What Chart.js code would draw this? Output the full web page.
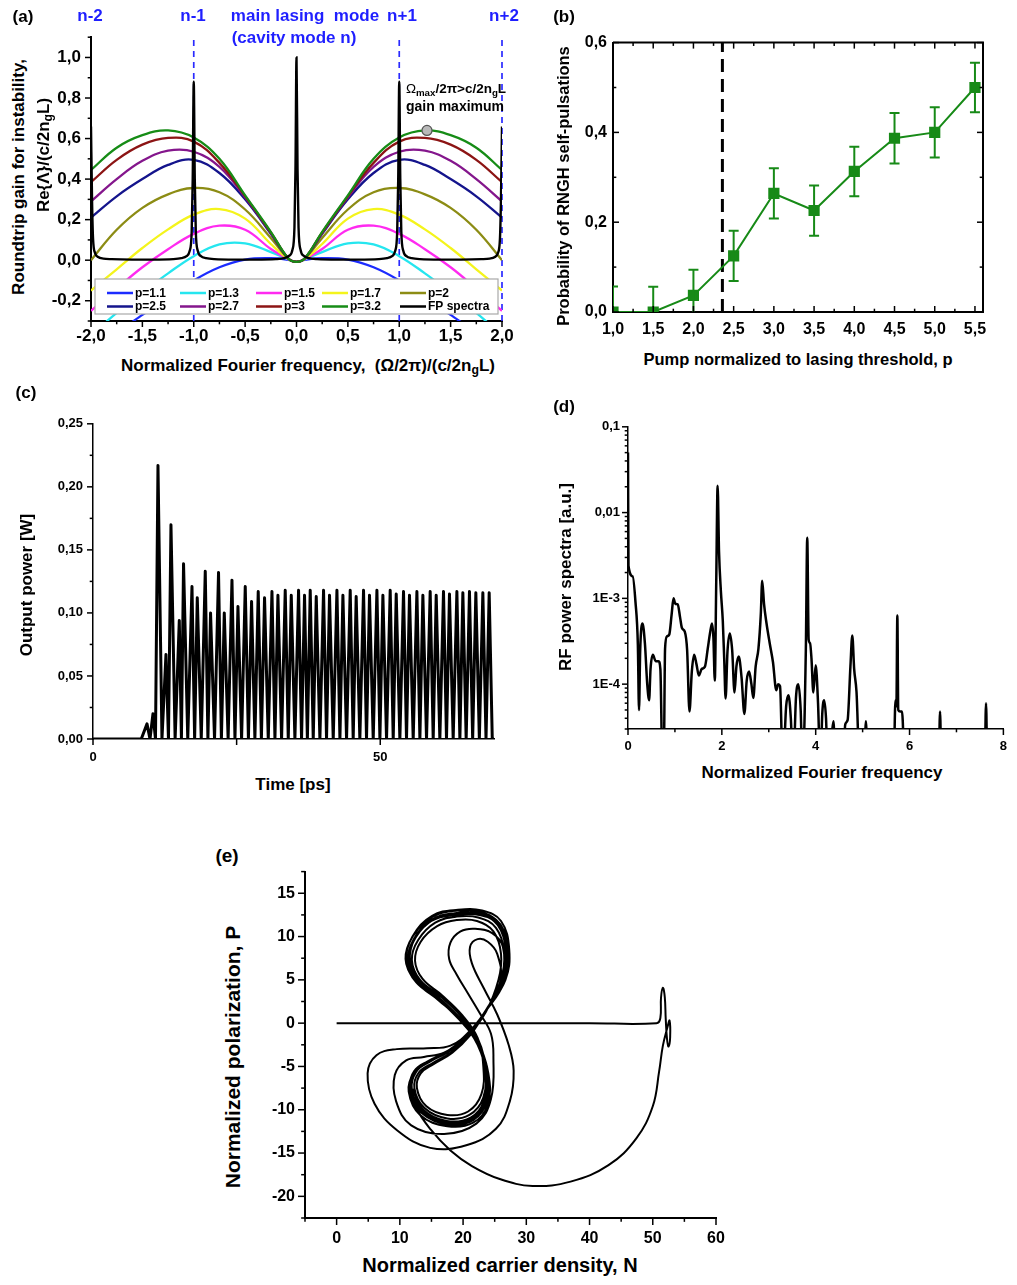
<!DOCTYPE html>
<html>
<head>
<meta charset="utf-8">
<script src="https://cdn.jsdelivr.net/npm/chart.js@4.4.1/dist/chart.umd.min.js"></script>
<style>
  html, body { margin: 0; padding: 0; background: #fff; }
  body { position: relative; width: 1017px; height: 1285px; overflow: hidden;
         font-family: "Liberation Sans", Arial, sans-serif; font-weight: bold; color: #000; }
  .panel { position: absolute; }
  .panel canvas { display: block; }
  .t { position: absolute; white-space: nowrap; line-height: 1; transform: translate(-50%, -50%); }
  .r { transform: translate(-50%, -50%) rotate(-90deg); }
  .blue { color: #1f1fff; }
  sub { font-size: 72%; vertical-align: -0.28em; line-height: 0; }
</style>
</head>
<body>

<div id="pa" class="panel"><canvas></canvas></div>
<div id="pb" class="panel"><canvas></canvas></div>
<div id="pc" class="panel"><canvas></canvas></div>
<div id="pd" class="panel"><canvas></canvas></div>
<div id="pe" class="panel"><canvas></canvas></div>

<!-- panel (a) texts -->
<div class="t" style="left:23px;top:16px;font-size:17px">(a)</div>
<div class="t blue" style="left:90px;top:15px;font-size:17px">n-2</div>
<div class="t blue" style="left:193px;top:15px;font-size:17px">n-1</div>
<div class="t blue" style="left:305px;top:15px;font-size:17px">main lasing&nbsp; mode</div>
<div class="t blue" style="left:294px;top:37px;font-size:17px">(cavity mode n)</div>
<div class="t blue" style="left:402px;top:15px;font-size:17px">n+1</div>
<div class="t blue" style="left:504px;top:15px;font-size:17px">n+2</div>
<div class="t" style="left:456px;top:89px;font-size:13.5px"><span style="font-weight:normal">Ω</span><sub>max</sub>/2π&gt;c/2n<sub>g</sub>L</div>
<div class="t" style="left:455px;top:106px;font-size:14px">gain maximum</div>
<div class="t r" style="left:18px;top:177px;font-size:17px">Roundtrip gain for instability,</div>
<div class="t r" style="left:43px;top:155px;font-size:17px">Re{Λ}/(c/2n<sub>g</sub>L)</div>
<div class="t" style="left:308px;top:365px;font-size:17px">Normalized Fourier frequency,&nbsp; (Ω/2π)/(c/2n<sub>g</sub>L)</div>

<!-- panel (b) texts -->
<div class="t" style="left:564px;top:16px;font-size:17px">(b)</div>
<div class="t r" style="left:563px;top:186px;font-size:16.5px">Probability of RNGH self-pulsations</div>
<div class="t" style="left:798px;top:359px;font-size:16.5px">Pump normalized to lasing threshold, p</div>

<!-- panel (c) texts -->
<div class="t" style="left:26px;top:392px;font-size:17px">(c)</div>
<div class="t r" style="left:26px;top:585px;font-size:17px">Output power [W]</div>
<div class="t" style="left:293px;top:784px;font-size:17px">Time [ps]</div>

<!-- panel (d) texts -->
<div class="t" style="left:564px;top:406px;font-size:17px">(d)</div>
<div class="t r" style="left:565px;top:577px;font-size:17px">RF power spectra [a.u.]</div>
<div class="t" style="left:822px;top:772px;font-size:17px">Normalized Fourier frequency</div>

<!-- panel (e) texts -->
<div class="t" style="left:227px;top:855px;font-size:19px">(e)</div>
<div class="t r" style="left:232px;top:1057px;font-size:21px">Normalized polarization, P</div>
<div class="t" style="left:500px;top:1265px;font-size:20px">Normalized carrier density, N</div>

<script>
const FONT = '"Liberation Sans", Arial, sans-serif';
Chart.defaults.font.family = FONT;
Chart.defaults.font.weight = 'bold';
Chart.defaults.color = '#000';
Chart.defaults.animation = false;
Chart.defaults.plugins.legend.display = false;
Chart.defaults.plugins.tooltip.enabled = false;

// ---------------- (a) instability gain vs. Fourier frequency ----------------
const gainX   = [-2, -1.75, -1.5, -1.25, -1, -0.75, -0.5, -0.25, -0.08, 0, 0.08, 0.25, 0.5, 0.75, 1, 1.25, 1.5, 1.75, 2];
const gainP11 = [-0.46, -0.36, -0.27, -0.185, -0.10, -0.035, 0.003, 0.01, 0.002, -0.008, 0.002, 0.01, 0.003, -0.035, -0.10, -0.185, -0.27, -0.36, -0.46];
const gainP13 = [-0.37, -0.26, -0.16, -0.065, 0.02, 0.078, 0.083, 0.04, 0.004, -0.008, 0.004, 0.04, 0.083, 0.078, 0.02, -0.065, -0.16, -0.26, -0.37];
const gainP15 = [-0.25, -0.14, -0.035, 0.054, 0.13, 0.17, 0.15, 0.055, 0.005, -0.008, 0.005, 0.055, 0.15, 0.17, 0.13, 0.054, -0.035, -0.14, -0.25];
const gainP17 = [-0.15, -0.045, 0.06, 0.152, 0.225, 0.252, 0.205, 0.08, 0.006, -0.008, 0.006, 0.08, 0.205, 0.252, 0.225, 0.152, 0.06, -0.045, -0.15];
const gainP20 = [0.0, 0.15, 0.258, 0.325, 0.356, 0.335, 0.25, 0.11, 0.007, -0.008, 0.007, 0.11, 0.25, 0.335, 0.356, 0.325, 0.258, 0.15, 0.0];
const gainP25 = [0.21, 0.315, 0.40, 0.47, 0.495, 0.43, 0.30, 0.13, 0.008, -0.008, 0.008, 0.13, 0.30, 0.43, 0.495, 0.47, 0.40, 0.315, 0.21];
const gainP27 = [0.29, 0.40, 0.49, 0.54, 0.535, 0.46, 0.31, 0.135, 0.008, -0.008, 0.008, 0.135, 0.31, 0.46, 0.535, 0.54, 0.49, 0.40, 0.29];
const gainP30 = [0.385, 0.495, 0.57, 0.603, 0.585, 0.48, 0.315, 0.137, 0.008, -0.008, 0.008, 0.137, 0.315, 0.48, 0.585, 0.603, 0.57, 0.495, 0.385];
const gainP32 = [0.445, 0.555, 0.617, 0.64, 0.605, 0.50, 0.32, 0.14, 0.008, -0.008, 0.008, 0.14, 0.32, 0.50, 0.605, 0.64, 0.617, 0.555, 0.445];
const pLabels = ['p=1.1', 'p=1.3', 'p=1.5', 'p=1.7', 'p=2', 'p=2.5', 'p=2.7', 'p=3', 'p=3.2'];
const pColors = ['#1c2cff', '#25e6ef', '#ff2af0', '#f4f41c', '#8c8c14', '#14148c', '#84168c', '#8c1414', '#168c16'];

// Fabry-Perot cavity mode spectrum
const fpX = [-2, -1.99, -1.98, -1.96, -1.93, -1.88, -1.8, -1.6, -1.4, -1.2, -1.12, -1.07, -1.04, -1.02, -1.01, -1,
             -0.99, -0.98, -0.96, -0.93, -0.88, -0.8, -0.6, -0.4, -0.2, -0.12, -0.07, -0.04, -0.02, -0.01, 0,
             0.01, 0.02, 0.04, 0.07, 0.12, 0.2, 0.4, 0.6, 0.8, 0.88, 0.93, 0.96, 0.98, 0.99, 1,
             1.01, 1.02, 1.04, 1.07, 1.12, 1.2, 1.4, 1.6, 1.8, 1.88, 1.93, 1.96, 1.98, 1.99, 2];
const fpY = [0.66, 0.30, 0.105, 0.035, 0.016, 0.008, 0.005, 0.003, 0.003, 0.005, 0.01, 0.02, 0.045, 0.14, 0.40, 0.88,
             0.40, 0.14, 0.045, 0.02, 0.01, 0.005, 0.003, 0.003, 0.005, 0.01, 0.022, 0.05, 0.16, 0.45, 1.0,
             0.45, 0.16, 0.05, 0.022, 0.01, 0.005, 0.003, 0.003, 0.005, 0.01, 0.02, 0.045, 0.14, 0.40, 0.88,
             0.40, 0.14, 0.045, 0.02, 0.01, 0.005, 0.003, 0.003, 0.005, 0.008, 0.016, 0.035, 0.105, 0.30, 0.66];
const modeLines = [-1, 1, 2];
const gainMax = { x: 1.27, y: 0.64 };
const aTicksX = [-2, -1.5, -1, -0.5, 0, 0.5, 1, 1.5, 2];
const aTicksY = [-0.2, 0, 0.2, 0.4, 0.6, 0.8, 1.0];

// ---------------- (b) self-pulsation probability ----------------
const pumpP   = [1.0, 1.5, 2.0, 2.5, 3.0, 3.5, 4.0, 4.5, 5.0, 5.5];
const probSP  = [0.0, 0.0, 0.037, 0.125, 0.264, 0.226, 0.313, 0.387, 0.40, 0.50];
const probErr = [0.057, 0.056, 0.057, 0.056, 0.056, 0.056, 0.055, 0.056, 0.056, 0.055];
const pumpThreshold = 2.36;
const bTicksX = [1.0, 1.5, 2.0, 2.5, 3.0, 3.5, 4.0, 4.5, 5.0, 5.5];
const bTicksY = [0, 0.2, 0.4, 0.6];

// ---------------- (c) output power time trace ----------------
const pulseT = [9.40, 10.44, 11.31, 12.70, 13.57, 15.02, 15.76, 17.23, 18.15, 19.54, 20.46, 21.85, 22.85, 24.19,
                25.23, 26.50, 27.60, 28.76, 29.86, 31.15, 32.19, 33.46, 34.51, 35.78, 36.82, 37.81, 38.86, 40.13,
                41.17, 42.46, 43.50, 44.77, 45.81, 47.09, 48.13, 49.42, 50.46, 51.73, 52.78, 54.05, 55.09, 56.38,
                57.42, 58.69, 59.74, 61.01, 62.05, 63.34, 64.38, 65.53, 66.64, 67.86, 68.96];
const pulseP = [0.012, 0.020, 0.217, 0.067, 0.170, 0.094, 0.139, 0.121, 0.112, 0.133, 0.100, 0.132, 0.100, 0.126,
                0.105, 0.121, 0.109, 0.117, 0.112, 0.117, 0.114, 0.118, 0.114, 0.118, 0.114, 0.118, 0.113, 0.118,
                0.114, 0.118, 0.114, 0.118, 0.113, 0.118, 0.114, 0.118, 0.114, 0.118, 0.115, 0.117, 0.114, 0.117,
                0.114, 0.117, 0.114, 0.117, 0.115, 0.117, 0.116, 0.117, 0.116, 0.116, 0.116];
const laserOn = 8.4, traceEnd = 69.5;
const cTicksX = [0, 50];
const cTicksY = [0, 0.05, 0.10, 0.15, 0.20, 0.25];

// ---------------- (d) RF power spectrum (frequency, power) ----------------
const rfSpectrum = [
  [0, 0.05], [0.01, 2.4e-3], [0.1, 1.8e-3], [0.16, 9e-4], [0.21, 2.9e-4], [0.235, 5.0e-5], [0.26, 2.5e-4],
  [0.31, 5.1e-4], [0.36, 3.0e-4], [0.41, 1.0e-4], [0.45, 6.5e-5], [0.48, 1.5e-4], [0.53, 2.2e-4], [0.59, 1.85e-4],
  [0.65, 1.85e-4], [0.69, 1.5e-4], [0.735, 1e-5], [0.76, 1e-5], [0.79, 2.6e-4], [0.83, 3.6e-4], [0.88, 3.8e-4],
  [0.93, 6.5e-4], [0.97, 1.0e-3], [1.01, 8.6e-4], [1.06, 8.5e-4], [1.11, 6.0e-4], [1.15, 4.5e-4], [1.21, 4.1e-4],
  [1.26, 2.5e-4], [1.31, 4.8e-5], [1.36, 1.4e-4], [1.41, 2.2e-4], [1.46, 1.7e-4], [1.51, 1.26e-4], [1.57, 1.5e-4],
  [1.64, 1.6e-4], [1.70, 2.6e-4], [1.75, 4.0e-4], [1.79, 5.1e-4], [1.82, 3.5e-4], [1.85, 1.1e-4], [1.88, 1.5e-3],
  [1.91, 0.0206], [1.94, 3.5e-3], [1.98, 1.2e-3], [2.02, 5.5e-4], [2.05, 2.0e-4], [2.08, 6.8e-5], [2.12, 2.4e-4],
  [2.17, 3.9e-4], [2.22, 2.5e-4], [2.27, 8.0e-5], [2.31, 1.6e-4], [2.36, 2.1e-4], [2.42, 1.2e-4], [2.48, 4.5e-5],
  [2.53, 1.1e-4], [2.58, 1.4e-4], [2.63, 1.0e-4], [2.67, 6.9e-5], [2.72, 1.6e-4], [2.78, 2.6e-4], [2.83, 6.5e-4],
  [2.86, 1.6e-3], [2.90, 8.5e-4], [2.95, 5.2e-4], [3.02, 3.0e-4], [3.09, 1.8e-4], [3.16, 8.5e-5], [3.20, 1.0e-4],
  [3.24, 9.5e-5], [3.30, 1e-5], [3.37, 5.5e-5], [3.42, 7.4e-5], [3.47, 4.0e-5], [3.52, 1e-5], [3.58, 7.0e-5],
  [3.63, 1.0e-4], [3.68, 5.0e-5], [3.72, 1e-5], [3.79, 2.5e-4], [3.82, 5.1e-3], [3.85, 3.3e-4], [3.88, 3.0e-4],
  [3.91, 2.0e-4], [3.95, 8.0e-5], [4.00, 1.66e-4], [4.05, 6.0e-5], [4.10, 1e-5], [4.14, 4.5e-5], [4.18, 6.5e-5],
  [4.22, 4.0e-5], [4.26, 1e-5], [4.34, 2.5e-5], [4.38, 3.7e-5], [4.42, 1e-5], [4.58, 1e-5], [4.63, 3.4e-5],
  [4.68, 3.8e-5], [4.74, 1.6e-4], [4.78, 3.7e-4], [4.82, 1.5e-4], [4.87, 8.1e-5], [4.94, 1e-5], [5.03, 1e-5],
  [5.07, 3.7e-5], [5.11, 1e-5], [5.66, 1e-5], [5.70, 6.5e-5], [5.72, 5.5e-5], [5.74, 6.3e-4], [5.76, 5.0e-5],
  [5.80, 4.8e-5], [5.84, 4.8e-5], [5.90, 1e-5], [6.62, 1e-5], [6.65, 4.8e-5], [6.68, 1e-5], [7.60, 1e-5],
  [7.63, 6.0e-5], [7.66, 1e-5], [8.0, 1e-5]
];
const dTicksX = [0, 2, 4, 6, 8];
const dTicksY = [1e-4, 1e-3, 1e-2, 1e-1];
const dTickLabels = ['1E-4', '1E-3', '0,01', '0,1'];

// ---------------- (e) phase portrait (carrier density N, polarization P) ----------------
const trajectory = [
  [0, 0], [20, 0], [40, 0], [50.6, 0], [51.2, 0.6], [51.3, 2.9], [51.6, 4.1], [51.9, 3.0], [52.05, 0.5],
  [52.25, -1.8], [52.5, -2.7], [52.75, -1.6], [52.65, 0.3], [52.35, -0.4], [51.6, -2.6], [51.0, -5.6],
  [50.0, -9.6], [47.4, -13.3], [43.0, -16.4], [37.0, -18.3], [31.0, -18.8], [25.8, -18.0], [21.4, -16.5],
  [18.0, -14.7], [14.9, -12.3], [12.6, -9.8], [11.6, -7.3], [12.3, -5.5], [14.4, -4.4], [17.4, -3.3],
  [20.5, -1.5], [23.6, 1.4],
  [26.4, 4.6], [27.1, 8.3], [25.9, 11.4], [22.9, 12.8], [19.1, 13.0], [15.2, 12.3], [12.1, 10.1], [10.9, 7.4],
  [12.4, 4.9], [15.8, 3.0], [19.2, 0.7], [22.2, -2.0], [23.9, -5.5], [23.8, -9.0], [21.6, -11.2], [17.6, -11.7],
  [13.5, -10.4], [11.5, -7.8], [12.3, -5.6], [14.6, -4.4], [17.6, -3.3], [20.6, -1.5], [23.5, 1.3],
  [25.9, 4.9], [25.4, 8.0], [23.9, 9.4], [22.3, 9.7], [21.1, 8.8], [21.4, 6.9], [23.3, 4.0], [25.4, 1.0],
  [27.2, -2.5], [28.0, -5.5], [27.4, -9.0], [25.2, -12.2], [20.5, -14.1], [14.8, -14.4], [9.6, -12.4],
  [6.0, -9.3], [4.9, -5.8], [6.3, -3.7], [9.5, -3.0], [14.3, -2.9], [18.0, -2.6], [21.2, -0.8], [24.3, 2.2],
  [26.6, 5.2], [26.9, 8.6], [25.5, 11.6], [22.5, 12.7], [18.7, 12.7], [14.9, 11.9], [12.2, 9.7], [11.3, 7.2],
  [12.9, 4.6], [16.2, 2.6], [19.6, 0.3], [22.3, -2.5], [23.7, -6.0], [23.4, -9.3], [21.2, -11.1], [17.3, -11.5],
  [13.4, -10.2], [11.8, -7.6], [12.7, -5.4], [15.1, -4.3], [18.0, -3.0], [21.0, -1.2], [23.9, 1.8],
  [26.2, 5.6], [26.3, 8.8], [24.6, 10.4], [21.9, 10.9], [19.6, 10.6], [18.0, 9.3], [17.8, 7.4], [19.0, 5.6],
  [20.8, 3.4], [22.6, 1.2], [24.4, -1.2], [24.8, -4.0], [24.4, -8.8], [22.1, -11.6], [17.0, -12.8],
  [11.8, -11.8], [9.4, -9.0], [9.2, -6.0], [11.0, -4.3], [13.8, -3.9], [17.0, -3.4], [20.3, -1.7], [23.3, 1.1],
  [26.0, 4.9], [26.5, 8.2], [25.2, 11.0], [22.4, 12.2], [19.0, 12.3], [15.6, 11.6], [12.9, 9.6], [11.9, 7.3],
  [13.2, 5.0], [16.4, 3.1], [19.7, 0.8], [22.4, -1.9], [23.5, -5.3], [23.2, -8.6], [21.0, -10.6], [17.5, -11.0],
  [13.9, -9.8], [12.3, -7.5], [13.0, -5.7], [15.2, -4.6], [18.1, -3.4], [21.0, -1.5], [23.7, 1.5],
  [26.7, 5.0], [27.3, 8.5], [26.0, 11.8], [23.0, 13.0], [19.2, 13.1], [15.1, 12.4], [12.0, 10.0], [11.0, 7.2],
  [12.6, 4.7], [16.0, 2.8], [19.4, 0.4], [22.3, -2.3], [24.0, -5.8], [23.9, -9.4], [21.6, -11.5], [17.5, -11.9],
  [13.2, -10.6], [11.4, -7.9], [12.2, -5.8], [14.5, -4.5], [17.5, -3.4], [20.6, -1.6], [23.6, 1.3],
  [25.6, 5.0], [26.0, 8.0], [24.8, 10.6], [22.2, 11.8], [19.0, 11.9], [15.9, 11.2], [13.3, 9.4], [12.4, 7.2],
  [13.6, 5.1], [16.7, 3.2], [19.9, 0.9], [22.3, -1.7], [23.2, -5.0], [22.9, -8.2], [20.8, -10.2], [17.5, -10.6],
  [14.2, -9.6], [12.7, -7.5], [13.3, -5.8], [15.4, -4.7], [18.3, -3.4], [21.1, -1.4], [23.6, 1.4],
  [26.1, 4.8], [26.7, 8.4], [25.5, 11.3], [22.7, 12.6], [19.1, 12.7], [15.4, 12.0], [12.5, 9.9], [11.5, 7.4],
  [12.9, 5.0], [16.1, 3.0], [19.5, 0.6], [22.3, -2.1], [23.7, -5.6], [23.5, -9.1], [21.3, -11.0], [17.5, -11.4],
  [13.6, -10.1], [11.9, -7.7], [12.6, -5.6], [14.9, -4.4], [17.9, -3.2], [20.8, -1.3], [23.6, 1.5],
  [26.3, 5.1], [26.8, 8.6], [25.4, 11.5], [22.6, 12.5], [18.8, 12.5], [15.0, 11.8], [12.4, 9.8], [11.6, 7.3],
  [13.0, 4.8], [16.2, 2.9], [19.5, 0.5], [22.2, -2.2], [23.6, -5.7], [23.3, -9.0], [21.2, -10.9], [17.4, -11.3],
  [13.7, -10.0], [12.0, -7.6]
];
const eTicksX = [0, 10, 20, 30, 40, 50, 60];
const eTicksY = [-20, -15, -10, -5, 0, 5, 10, 15];

// ---------------- helpers ----------------
const GREEN = '#178a17';
const zip = (xs, ys) => xs.map((x, i) => ({ x, y: ys[i] }));
const comma = d => v => Number(v).toFixed(d).replace('.', ',');

function linAxis(min, max, ticks, fmt, size, pad, bw) {
  return {
    type: 'linear', min, max,
    grid: { display: false, drawTicks: false },
    border: { display: true, color: '#000', width: bw },
    ticks: { color: '#000', font: { size, weight: 'bold' }, padding: pad, autoSkip: false, maxRotation: 0, callback: fmt },
    afterBuildTicks: s => { s.ticks = ticks.map(v => ({ value: v })); }
  };
}

// positions of major/minor tick marks along a scale
function markValues(s, sp) {
  const out = [];
  if (sp.log) {
    for (let e = Math.floor(Math.log10(s.min)); e <= Math.ceil(Math.log10(s.max)); e++) {
      for (let k = 1; k <= 9; k++) {
        const v = k * Math.pow(10, e);
        if (v >= s.min * 0.999 && v <= s.max * 1.001) out.push({ v, major: k === 1 });
      }
    }
  } else {
    const k0 = Math.ceil(s.min / sp.minor - 1e-6), k1 = Math.floor(s.max / sp.minor + 1e-6);
    for (let k = k0; k <= k1; k++) {
      const v = k * sp.minor, r = v / sp.major;
      out.push({ v, major: Math.abs(r - Math.round(r)) < 1e-6 });
    }
  }
  return out;
}

function tickMarks(specs) {
  return {
    id: 'tickMarks',
    afterDraw(chart) {
      const ctx = chart.ctx, a = chart.chartArea;
      ctx.save();
      ctx.strokeStyle = '#000';
      specs.forEach(sp => {
        const s = chart.scales[sp.axis];
        ctx.lineWidth = sp.lw || 1.5;
        markValues(s, sp).forEach(m => {
          const len = m.major ? sp.len : sp.len * 0.55;
          const p = s.getPixelForValue(m.v);
          const out = sp.dir === 'out';
          sp.sides.forEach(side => {
            ctx.beginPath();
            if (side === 'bottom') { ctx.moveTo(p, a.bottom); ctx.lineTo(p, a.bottom + (out ? len : -len)); }
            if (side === 'top')    { ctx.moveTo(p, a.top);    ctx.lineTo(p, a.top + (out ? -len : len)); }
            if (side === 'left')   { ctx.moveTo(a.left, p);   ctx.lineTo(a.left + (out ? -len : len), p); }
            if (side === 'right')  { ctx.moveTo(a.right, p);  ctx.lineTo(a.right + (out ? len : -len), p); }
            ctx.stroke();
          });
        });
      });
      ctx.restore();
    }
  };
}

function mount(id, area, yW, xH, padT, padR, config) {
  const box = document.getElementById(id);
  const w = area.r - area.l + yW + padR, h = area.b - area.t + padT + xH;
  Object.assign(box.style, { left: (area.l - yW) + 'px', top: (area.t - padT) + 'px', width: w + 'px', height: h + 'px' });
  const cv = box.querySelector('canvas');
  cv.width = w; cv.height = h;
  config.options.responsive = false;
  config.options.devicePixelRatio = 1;
  config.options.layout = { autoPadding: false, padding: { left: 0, top: padT, right: padR, bottom: 0 } };
  config.options.scales.x.afterFit = s => { s.height = xH; };
  config.options.scales.y.afterFit = s => { s.width = yW; };
  return new Chart(cv, config);
}

// ---------------- (a) ----------------
const gainCurves = [gainP11, gainP13, gainP15, gainP17, gainP20, gainP25, gainP27, gainP30, gainP32];
const aDatasets = [
  { data: [gainMax], showLine: false, pointRadius: 5, pointBackgroundColor: '#b9b9b9',
    pointBorderColor: '#555', pointBorderWidth: 1.2, order: -1 },
  { label: 'FP spectra', data: zip(fpX, fpY), borderColor: '#000', borderWidth: 2.4, pointRadius: 0,
    cubicInterpolationMode: 'monotone', order: 0 }
];
gainCurves.forEach((g, i) => aDatasets.push({
  label: pLabels[i], data: zip(gainX, g), borderColor: pColors[i], borderWidth: 2.3,
  pointRadius: 0, tension: 0.4, order: 9 - i
}));
modeLines.forEach(m => aDatasets.push({
  data: [{ x: m, y: -0.3 }, { x: m, y: 1.1 }], borderColor: '#2a2aff', borderWidth: 1.7,
  borderDash: [6, 5], pointRadius: 0, order: 10, clip: 4
}));

const legendA = {
  id: 'legendA',
  afterDatasetsDraw(chart) {
    const { ctx, chartArea: a } = chart;
    const x0 = a.left + 4, x1 = a.right - 4, y0 = a.bottom - 42, y1 = a.bottom - 7;
    ctx.save();
    ctx.fillStyle = '#fff';
    ctx.fillRect(x0, y0, x1 - x0, y1 - y0);
    ctx.strokeStyle = '#a8a8a8'; ctx.lineWidth = 1.2;
    ctx.strokeRect(x0, y0, x1 - x0, y1 - y0);
    const cols = [16, 89, 165, 231, 309];
    const rows = [a.bottom - 28, a.bottom - 14.5];
    const items = pLabels.map((l, i) => ({ label: l, color: pColors[i] })).concat([{ label: 'FP spectra', color: '#000' }]);
    ctx.font = 'bold 12px ' + FONT;
    ctx.textBaseline = 'middle';
    ctx.fillStyle = '#000';
    items.forEach((it, i) => {
      const lx = a.left + cols[i % 5], ly = rows[Math.floor(i / 5)];
      ctx.strokeStyle = it.color; ctx.lineWidth = 2.5;
      ctx.beginPath(); ctx.moveTo(lx, ly); ctx.lineTo(lx + 26, ly); ctx.stroke();
      ctx.fillText(it.label, lx + 28, ly + 0.5);
    });
    ctx.restore();
  }
};

mount('pa', { l: 91, r: 502, t: 29, b: 321 }, 60, 30, 12, 22, {
  type: 'line',
  data: { datasets: aDatasets },
  options: {
    scales: {
      x: linAxis(-2, 2, aTicksX, comma(1), 17, 5, 2),
      y: linAxis(-0.3, 1.1, aTicksY, comma(1), 17, 10, 2)
    }
  },
  plugins: [legendA, tickMarks([
    { axis: 'x', minor: 0.25, major: 0.5, len: 6, dir: 'out', sides: ['bottom'] },
    { axis: 'y', minor: 0.1, major: 0.2, len: 6, dir: 'out', sides: ['left'] }
  ])]
});

// ---------------- (b) ----------------
const errorBars = {
  id: 'errorBars',
  afterDatasetsDraw(chart) {
    const { ctx, chartArea: a, scales: { x, y } } = chart;
    ctx.save();
    ctx.beginPath(); ctx.rect(a.left, a.top, a.right - a.left, a.bottom - a.top); ctx.clip();
    ctx.strokeStyle = GREEN; ctx.lineWidth = 2;
    pumpP.forEach((p, i) => {
      const px = x.getPixelForValue(p);
      const top = y.getPixelForValue(probSP[i] + probErr[i]);
      const bot = y.getPixelForValue(probSP[i] - probErr[i]);
      ctx.beginPath();
      ctx.moveTo(px, top); ctx.lineTo(px, bot);
      ctx.moveTo(px - 5, top); ctx.lineTo(px + 5, top);
      ctx.moveTo(px - 5, bot); ctx.lineTo(px + 5, bot);
      ctx.stroke();
    });
    ctx.restore();
  }
};
const frameB = {
  id: 'frameB',
  afterDraw(chart) {
    const { ctx, chartArea: a } = chart;
    ctx.save();
    ctx.strokeStyle = '#000'; ctx.lineWidth = 2;
    ctx.beginPath();
    ctx.moveTo(a.left, a.top); ctx.lineTo(a.right, a.top); ctx.lineTo(a.right, a.bottom);
    ctx.stroke();
    ctx.restore();
  }
};

mount('pb', { l: 613, r: 983, t: 39, b: 312 }, 50, 30, 12, 20, {
  type: 'line',
  data: {
    datasets: [
      { data: zip(pumpP, probSP), borderColor: GREEN, borderWidth: 2, pointStyle: 'rect', pointRadius: 6.5,
        pointBackgroundColor: GREEN, pointBorderColor: GREEN, tension: 0, order: 0 },
      { data: [{ x: pumpThreshold, y: 0 }, { x: pumpThreshold, y: 0.6 }], borderColor: '#000', borderWidth: 3,
        borderDash: [13, 7], pointRadius: 0, order: 1 }
    ]
  },
  options: {
    scales: {
      x: linAxis(1.0, 5.6, bTicksX, comma(1), 16, 8, 2),
      y: linAxis(0, 0.6, bTicksY, comma(1), 16, 6, 2)
    }
  },
  plugins: [errorBars, frameB, tickMarks([
    { axis: 'x', minor: 0.25, major: 0.5, len: 6, dir: 'in', sides: ['bottom', 'top'] },
    { axis: 'y', minor: 0.1, major: 0.2, len: 6, dir: 'in', sides: ['left', 'right'] }
  ])]
});

// ---------------- (c) ----------------
// the trace rises from the off level, each pulse returns to zero power between peaks
const cTrace = [{ x: 0, y: 0 }, { x: laserOn, y: 0 }];
pulseT.forEach((t, i) => {
  if (i > 0) cTrace.push({ x: (pulseT[i - 1] + t) / 2, y: 0 });
  cTrace.push({ x: t, y: pulseP[i] });
});
cTrace.push({ x: traceEnd, y: 0 }, { x: 69.8, y: 0 });

mount('pc', { l: 93, r: 494, t: 416, b: 739 }, 45, 28, 10, 15, {
  type: 'line',
  data: { datasets: [{ data: cTrace, borderColor: '#000', borderWidth: 3, pointRadius: 0, tension: 0,
                       borderJoinStyle: 'round' }] },
  options: {
    scales: {
      x: linAxis(0, 69.8, cTicksX, v => String(v), 13, 11, 1.5),
      y: linAxis(0, 0.25, cTicksY, comma(2), 13, 10, 1.5)
    }
  },
  plugins: [tickMarks([
    { axis: 'x', minor: 25, major: 25, len: 6, dir: 'out', sides: ['bottom'] },
    { axis: 'y', minor: 0.025, major: 0.05, len: 6, dir: 'out', sides: ['left'] }
  ])]
});

// ---------------- (d) ----------------
mount('pd', { l: 628, r: 1012, t: 421, b: 729 }, 45, 28, 10, 5, {
  type: 'line',
  data: { datasets: [{ data: rfSpectrum.map(([x, y]) => ({ x, y })), borderColor: '#000', borderWidth: 2.5,
                       pointRadius: 0, cubicInterpolationMode: 'monotone', borderJoinStyle: 'round' }] },
  options: {
    scales: {
      x: linAxis(0, 8, dTicksX, v => String(v), 13, 10, 1.5),
      y: {
        type: 'logarithmic', min: 3e-5, max: 0.1,
        grid: { display: false, drawTicks: false },
        border: { display: true, color: '#000', width: 1.5 },
        ticks: { color: '#000', font: { size: 13, weight: 'bold' }, padding: 8, autoSkip: false,
                 callback: v => { const i = dTicksY.findIndex(t => Math.abs(t - v) / t < 1e-6); return i < 0 ? '' : dTickLabels[i]; } },
        afterBuildTicks: s => { s.ticks = dTicksY.map(v => ({ value: v })); }
      }
    }
  },
  plugins: [tickMarks([
    { axis: 'x', minor: 1, major: 2, len: 6, dir: 'out', sides: ['bottom'] },
    { axis: 'y', log: true, len: 6, dir: 'out', sides: ['left'] }
  ])]
});

// ---------------- (e) ----------------
mount('pe', { l: 305, r: 716, t: 864, b: 1218 }, 40, 32, 12, 22, {
  type: 'scatter',
  data: { datasets: [{ data: trajectory.map(([x, y]) => ({ x, y })), showLine: true, borderColor: '#000',
                       borderWidth: 2, pointRadius: 0, tension: 0.4 }] },
  options: {
    scales: {
      x: linAxis(-5, 60, eTicksX, v => String(v), 16, 11, 2),
      y: linAxis(-22.5, 17.5, eTicksY, v => String(v), 16, 10, 2)
    }
  },
  plugins: [tickMarks([
    { axis: 'x', minor: 5, major: 10, len: 7, dir: 'out', sides: ['bottom'] },
    { axis: 'y', minor: 2.5, major: 5, len: 7, dir: 'out', sides: ['left'] }
  ])]
});
</script>
</body>
</html>
